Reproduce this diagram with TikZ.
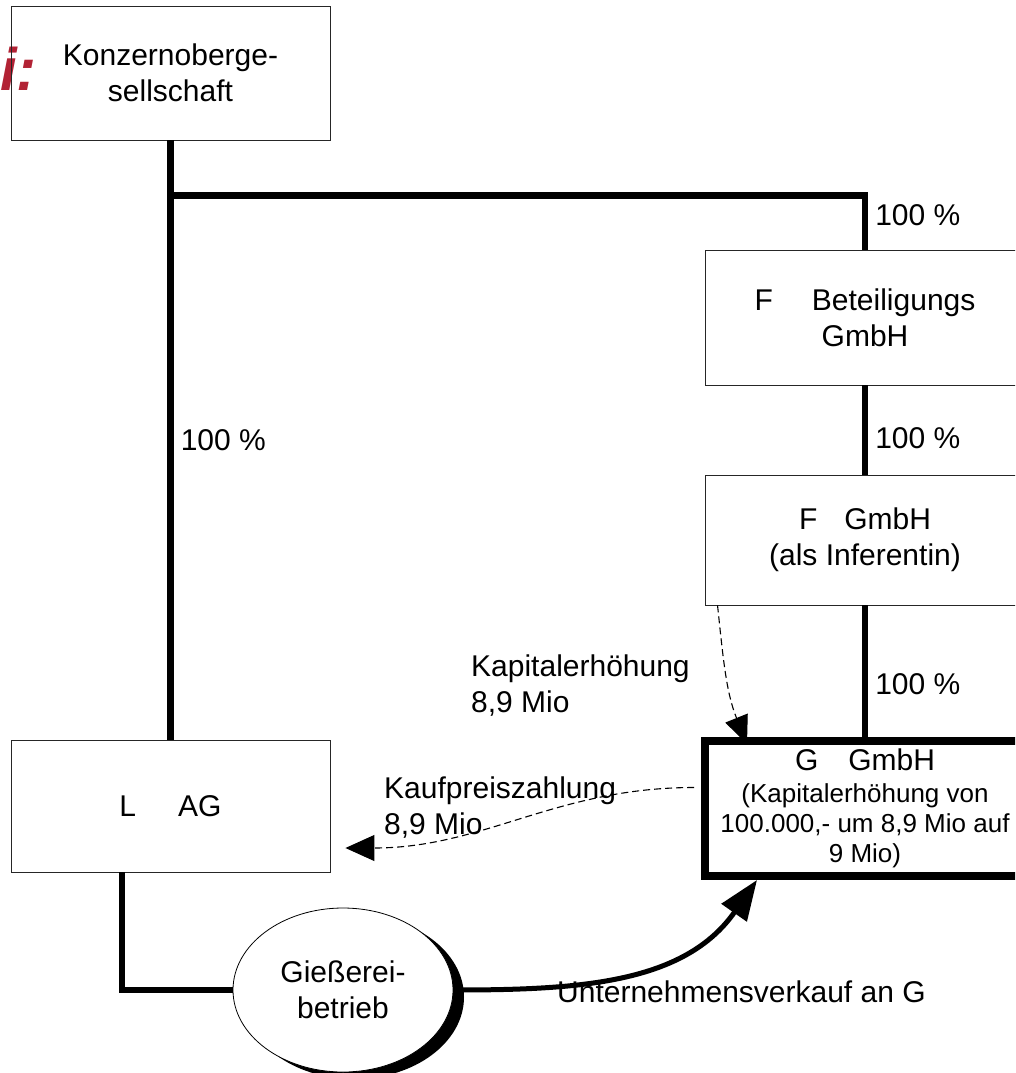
\documentclass[tikz,border=0pt]{standalone}
\usepackage{fontspec}
\setmainfont{Liberation Sans}
\usetikzlibrary{arrows.meta,shapes.geometric,shadows,calc}
\definecolor{logored}{RGB}{178,34,52}
\tikzset{
  orgbox/.style  = {shape=rectangle, draw=black!85, line width=0.9pt,
                    align=center, inner sep=0pt, minimum width=320pt},
  mainbox/.style = {orgbox, draw=black, line width=8pt,
                    font=\fontsize{26}{30}\selectfont},
  unit/.style    = {ellipse, draw, line width=0.8pt, fill=white,
                    align=center, inner sep=0pt,
                    minimum width=220pt, minimum height=164pt,
                    drop shadow={shadow xshift=11pt, shadow yshift=-7pt,
                                 fill=black, opacity=1}},
  share/.style   = {line width=6.5pt},
  pct/.style     = {right, inner sep=7pt},
  money/.style   = {dash pattern=on 7pt off 4pt, line width=1.1pt,
                    -{Triangle[length=29pt, width=26pt]}},
  sale/.style    = {line width=5pt, -{Triangle[length=40pt, width=30pt]}},
  note/.style    = {anchor=west, align=left, inner sep=0pt}
}

\begin{document}
\begin{tikzpicture}
  [
    x = 1pt, y = -1pt,
    every node/.style = {font=\fontsize{30}{36}\selectfont}
  ]
  \useasboundingbox (0,0) rectangle (1015,1073);
  \clip (0,0) rectangle (1015,1073);

  \node [font=\fontsize{60}{60}\selectfont\bfseries\itshape, text=logored,
         anchor=base west, inner sep=0pt] (logo) at (0,90) {i:};

  \node [orgbox, minimum width=319pt, minimum height=134pt] (konzern) at (170.5,73)
    {Konzernoberge-\\sellschaft};
  \node [orgbox, minimum width=319pt, minimum height=132pt] (lag) at (170.5,806)
    {L\hspace{1.4em}AG};
  \node [orgbox, minimum height=135pt] (fbet) at (865,317.5)
    {F\hspace{1.3em}Beteiligungs\\GmbH};
  \node [orgbox, minimum height=130pt] (fgmbh) at (865,540)
    {F\hspace{0.9em}GmbH\\(als Inferentin)};
  \node [mainbox, minimum height=135pt] (ggmbh) at (865,808.5)
    {{\fontsize{30}{36}\selectfont G\hspace{1em}GmbH}\\[2pt]
     (Kapitalerhöhung von\\100.000,- um 8,9 Mio auf\\9 Mio)};
  \node [unit] (gies) at (343,990) {Gießerei-\\betrieb};

  \coordinate (branch) at ($(konzern.south)+(0,55)$);
  \draw [share] (konzern.south) -- node [pct, pos=0.5] {100 \%} (lag.north);
  \draw [share] (branch) -| node [pct, pos=0.68] {100 \%} (fbet.north);
  \draw [share] (fbet.south) -- node [pct, pos=0.59] {100 \%} (fgmbh.north);
  \draw [share] (fgmbh.south) -- node [pct, pos=0.6] {100 \%} (ggmbh.north);
  \draw [share] (lag.south -| 122,0) |- (gies.west);

  \draw [sale] (gies.east) to [out=0, in=-125] ($(ggmbh.south west)+(56,0)$);
  \draw [money] ([shift={(-7pt,21pt)}]ggmbh.west) to [out=180, in=0]
    ($(lag.east)+(15,42)$);
  \draw [money, -{Triangle[length=28pt, width=24pt]}]
    ($(fgmbh.south west)+(13,0)$) to [out=-84, in=112] ($(ggmbh.north west)+(46,7)$);

  \node [note] (kapital) at (471,686) {Kapitalerhöhung\\8,9 Mio};
  \node [note] (kauf) at (384,808) {Kaufpreiszahlung\\8,9 Mio};
  \node [note] (verkauf) at (557,992) {Unternehmensverkauf an G};
\end{tikzpicture}
\end{document}
